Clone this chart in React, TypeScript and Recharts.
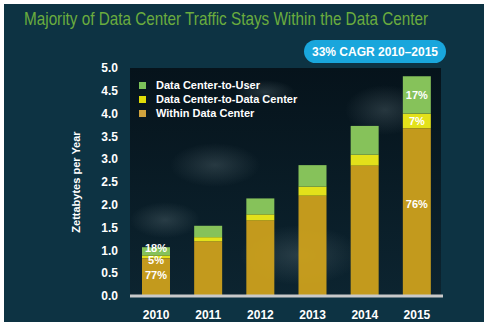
import React from 'react';
import { BarChart, Bar, XAxis, YAxis, LabelList } from 'recharts';

const years = ['2010', '2011', '2012', '2013', '2014', '2015'];
const within = [0.83, 1.2, 1.66, 2.2, 2.86, 3.68];
const dcToDc = [0.06, 0.09, 0.13, 0.2, 0.24, 0.32];
const dcToUser = [0.18, 0.25, 0.35, 0.47, 0.63, 0.82];
const withinPct = ['77%', '', '', '', '', '76%'];
const dcToDcPct = ['5%', '', '', '', '', '7%'];
const dcToUserPct = ['18%', '', '', '', '', '17%'];
const yTicks = [0, 0.5, 1, 1.5, 2, 2.5, 3, 3.5, 4, 4.5, 5];

const data = years.map((year, i) => ({
  year,
  within: within[i],
  dcToDc: dcToDc[i],
  dcToUser: dcToUser[i],
  withinPct: withinPct[i],
  dcToDcPct: dcToDcPct[i],
  dcToUserPct: dcToUserPct[i],
}));

const FONT = '"Liberation Sans", Arial, sans-serif';
const GOLD = '#cda11c';
const YELLOW = '#e3e11a';
const GREEN = '#86c25a';

const legendItems = [
  { label: 'Data Center-to-User', color: '#7cc25a' },
  { label: 'Data Center-to-Data Center', color: '#e0dc08' },
  { label: 'Within Data Center', color: '#d0a33e' },
];

function LegendBox() {
  return (
    <div style={{ position: 'absolute', left: 139, top: 78, fontFamily: FONT, fontWeight: 700, fontSize: 11, color: '#fff' }}>
      {legendItems.map((it) => (
        <div key={it.label} style={{ display: 'flex', alignItems: 'center', height: 14 }}>
          <span style={{ width: 7, height: 7, background: it.color, marginRight: 10, display: 'inline-block' }} />
          {it.label}
        </div>
      ))}
    </div>
  );
}

// label inside a segment; thin segments push the text up (top series) or down (middle series)
const pctLabel = (kind: 'top' | 'mid' | 'base') => (props: any) => {
  const { x, y, width, height, value } = props;
  if (!value) return null;
  let cy = y + height / 2;
  if (kind === 'base') cy = y + height * 0.45;
  if (kind === 'top' && height < 14) cy = y + 1;
  if (kind === 'mid' && height < 8) cy = y + height / 2 + 3;
  return (
    <text
      x={x + width / 2}
      y={cy}
      dy="0.35em"
      textAnchor="middle"
      fill="#fff"
      fontSize={11}
      fontWeight={700}
      fontFamily={FONT}
    >
      {value}
    </text>
  );
};

export default function App() {
  return (
    <div style={{ position: 'absolute', left: 0, top: 0, width: 490, height: 329, background: '#fff' }}>
      <svg width={490} height={329} style={{ position: 'absolute', left: 0, top: 0 }}>
        <defs>
          <radialGradient id="cloud" cx="50%" cy="50%" r="50%">
            <stop offset="0%" stopColor="#6f8288" stopOpacity={0.3} />
            <stop offset="100%" stopColor="#6f8288" stopOpacity={0} />
          </radialGradient>
          <linearGradient id="plotBg" x1="0" y1="0" x2="0" y2="1">
            <stop offset="0%" stopColor="#06131b" />
            <stop offset="100%" stopColor="#0c2430" />
          </linearGradient>
        </defs>
        <rect x={4} y={4} width={480} height={318} fill="#0d3343" />
        <text
          transform="translate(24,25) scale(1,1.15)"
          fontFamily={FONT}
          fontSize={15.3}
          fill="#6aac3e"
        >
          Majority of Data Center Traffic Stays Within the Data Center
        </text>
        <rect x={130} y={68} width={311} height={228} fill="url(#plotBg)" />
        <ellipse cx={215} cy={165} rx={45} ry={22} fill="url(#cloud)" />
        <ellipse cx={165} cy={220} rx={35} ry={18} fill="url(#cloud)" />
        <ellipse cx={300} cy={255} rx={60} ry={30} fill="url(#cloud)" />
        <ellipse cx={385} cy={110} rx={40} ry={25} fill="url(#cloud)" />
        <ellipse cx={265} cy={92} rx={30} ry={12} fill="url(#cloud)" />
        <rect x={304} y={40} width={142} height={23} rx={11.5} fill="#19a6dc" />
        <text x={375} y={56} textAnchor="middle" fontFamily={FONT} fontWeight={700} fontSize={12} fill="#fff">
          33% CAGR 2010–2015
        </text>
      </svg>
      <div style={{ position: 'absolute', left: 0, top: 0 }}>
        <BarChart
          width={490}
          height={329}
          data={data}
          margin={{ top: 68, right: 47, left: 70, bottom: 8 }}
          barCategoryGap="23%"
        >
          <XAxis
            dataKey="year"
            axisLine={{ stroke: '#c9c9c9', strokeWidth: 3 }}
            tickLine={false}
            height={25}
            tick={{ fill: '#fff', fontSize: 12, fontWeight: 700, fontFamily: FONT }}
            tickMargin={8}
          />
          <YAxis
            domain={[0, 5]}
            ticks={yTicks}
            width={60}
            axisLine={false}
            tickLine={false}
            tickFormatter={(v: number) => v.toFixed(1)}
            tick={{ fill: '#fff', fontSize: 12, fontWeight: 700, fontFamily: FONT }}
            tickMargin={6}
            label={{
              value: 'Zettabytes per Year',
              angle: -90,
              position: 'insideLeft',
              offset: 6,
              style: { fill: '#fff', fontSize: 11, fontWeight: 700, fontFamily: FONT, textAnchor: 'middle' },
            }}
          />
          <Bar dataKey="within" stackId="a" fill={GOLD} fillOpacity={0.95} isAnimationActive={false}>
            <LabelList dataKey="withinPct" content={pctLabel('base')} />
          </Bar>
          <Bar dataKey="dcToDc" stackId="a" fill={YELLOW} isAnimationActive={false}>
            <LabelList dataKey="dcToDcPct" content={pctLabel('mid')} />
          </Bar>
          <Bar dataKey="dcToUser" stackId="a" fill={GREEN} isAnimationActive={false}>
            <LabelList dataKey="dcToUserPct" content={pctLabel('top')} />
          </Bar>
        </BarChart>
      </div>
      <LegendBox />
    </div>
  );
}
